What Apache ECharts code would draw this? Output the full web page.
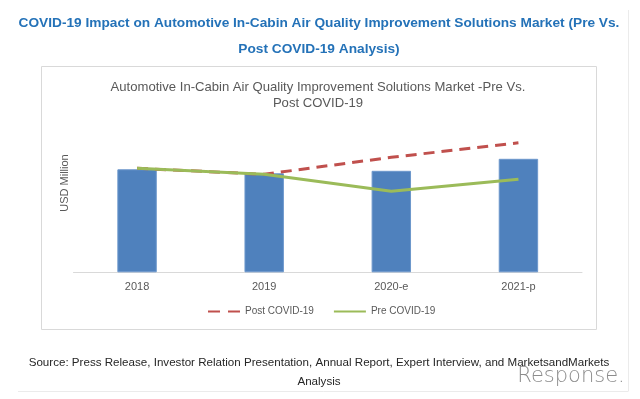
<!DOCTYPE html>
<html>
<head>
<meta charset="utf-8">
<script src="https://cdn.jsdelivr.net/npm/echarts@6/dist/echarts.min.js"></script>
<style>
  html, body { margin: 0; padding: 0; background: #fff; }
  #chart { width: 640px; height: 399px; }
</style>
</head>
<body>
<div id="chart"></div>
<script>
// data (no y labels, so arbitrary units)
var years = ['2018', '2019', '2020-e', '2021-p'];
var marketBars = [103, 99, 101.5, 113.5];
var postCovid = [104, 98, 115, 129.5];
var preCovid = [104, 98, 81, 93];

var chart = echarts.init(document.getElementById('chart'));
var font = 'Liberation Sans';

chart.setOption({
  animation: false,
  title: [
    {
      // main heading
      text: 'COVID-19 Impact on Automotive In-Cabin Air Quality Improvement Solutions Market (Pre Vs.\nPost COVID-19 Analysis)',
      left: 314, top: 5.5, textAlign: 'center',
      textStyle: { color: '#2472b8', fontSize: 13.7, fontWeight: 'bold', fontFamily: font, lineHeight: 26 }
    },
    {
      text: 'Automotive In-Cabin Air Quality Improvement Solutions Market -Pre Vs.\nPost COVID-19',
      left: 313, top: 75, textAlign: 'center',
      textStyle: { color: '#595959', fontSize: 13.1, fontWeight: 'normal', fontFamily: font, lineHeight: 15.5 }
    },
    {
      text: 'Source: Press Release, Investor Relation Presentation, Annual Report, Expert Interview, and MarketsandMarkets\nAnalysis',
      left: 314, top: 348, textAlign: 'center',
      textStyle: { color: '#262626', fontSize: 11.6, fontWeight: 'normal', fontFamily: font, lineHeight: 19 }
    }
  ],
  legend: {
    left: 207, top: 306.5, padding: 0,
    itemWidth: 32, itemHeight: 2, itemGap: 19,
    itemStyle: { opacity: 0 },
    data: [
      { name: 'Post COVID-19', lineStyle: { type: [12, 8] } },
      'Pre COVID-19'
    ],
    textStyle: { color: '#595959', fontSize: 10, fontFamily: font }
  },
  grid: { left: 73.5, right: 58, top: 72.3, bottom: 126.7 },
  xAxis: {
    type: 'category',
    data: years,
    axisLine: { lineStyle: { color: '#d9d9d9' } },
    axisTick: { show: false },
    axisLabel: { color: '#595959', fontSize: 11, fontFamily: font, margin: 9 }
  },
  yAxis: {
    type: 'value', min: 0, max: 200,
    show: false
  },
  graphic: [
    { type: 'rect', shape: { x: 41.5, y: 66.5, width: 555, height: 263 }, style: { fill: 'none', stroke: '#d9d9d9', lineWidth: 1 }, z: -1 },
    { type: 'line', shape: { x1: 628.5, y1: 10, x2: 628.5, y2: 391 }, style: { stroke: '#ebebeb', lineWidth: 1 } },
    { type: 'line', shape: { x1: 18, y1: 391.5, x2: 628.5, y2: 391.5 }, style: { stroke: '#ebebeb', lineWidth: 1 } },
    {
      type: 'text', x: 65, y: 183, rotation: Math.PI / 2,
      style: { text: 'USD Million', fill: '#595959', fontSize: 11, fontFamily: font, align: 'center', verticalAlign: 'middle' }
    },
    {
      type: 'text', x: 571, y: 377,
      style: { text: 'Response.', fill: '#8c8c8c', fontSize: 21, fontFamily: 'DejaVu Sans', fontWeight: 'lighter', align: 'center', verticalAlign: 'middle' }
    }
  ],
  series: [
    {
      name: 'Market', type: 'bar', data: marketBars,
      barWidth: '31%',
      itemStyle: { color: '#4f81bd', borderColor: '#6d98cc', borderWidth: 1 },
      z: 1
    },
    {
      name: 'Post COVID-19', type: 'line', data: postCovid,
      symbol: 'none', color: '#c0504d',
      lineStyle: { color: '#c0504d', width: 3, type: [11, 7] },
      z: 2
    },
    {
      name: 'Pre COVID-19', type: 'line', data: preCovid,
      symbol: 'none', color: '#9bbb59',
      lineStyle: { color: '#9bbb59', width: 3 },
      z: 3
    }
  ]
});
</script>
</body>
</html>
